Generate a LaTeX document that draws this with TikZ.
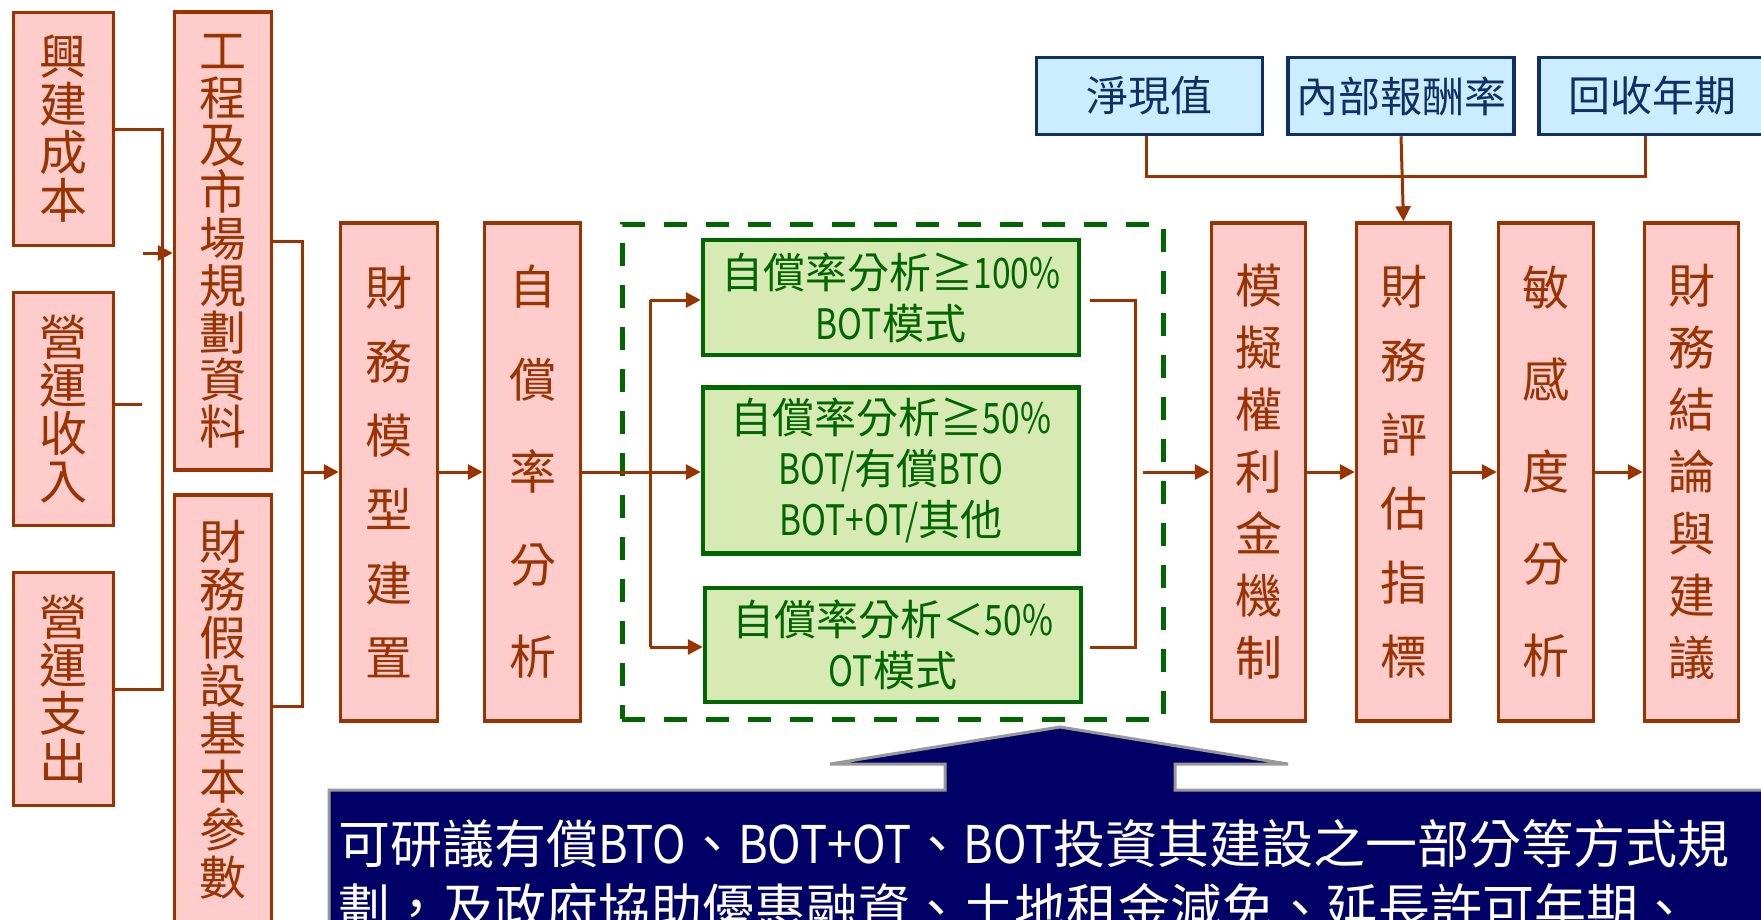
\documentclass[tikz,border=0pt]{standalone}
\usepackage{fontspec}
\setmainfont{Noto Sans CJK TC}
\newfontfamily\lat[FakeStretch=0.8]{Noto Sans CJK TC}
\newfontfamily\latc[FakeStretch=0.87]{Noto Sans CJK TC}
\usetikzlibrary{arrows.meta}
\definecolor{brn}{HTML}{993300}
\definecolor{pk}{HTML}{FFCCCC}
\definecolor{gfill}{HTML}{D8EAB4}
\definecolor{gdark}{HTML}{006600}
\definecolor{bfill}{HTML}{CCECFF}
\definecolor{bdark}{HTML}{0F2F66}
\definecolor{navy}{HTML}{000066}
\definecolor{cgray}{HTML}{999999}
\newcommand\fs[2]{\fontsize{#1}{#2}\selectfont}
\begin{document}
\begin{tikzpicture}[x=1pt,y=-1pt,
 pbox/.style={draw=brn,fill=pk,line width=3.4pt,text=brn,inner sep=0pt,align=center},
 gbox/.style={draw=gdark,fill=gfill,line width=4.5pt,text=gdark,inner sep=0pt,align=center,font=\fs{42}{51},minimum width=376pt},
 bbox/.style={draw=bdark,fill=bfill,line width=3.5pt,text=bdark,inner sep=0pt,font=\fs{42}{50},minimum width=226pt,minimum height=77pt},
 grp/.style={draw=gdark,line width=5pt,dash pattern=on 23pt off 19pt,inner sep=0pt},
 conn/.style={draw=brn,line width=3pt},
 arr/.style={conn,-{Triangle[length=15pt,width=15pt]}},
 cltext/.style={anchor=base west,text=white,inner sep=0pt,font=\fs{52}{64}},
]
\useasboundingbox (0,0) rectangle (1761,919);
\clip (0,0) rectangle (1761,919);
\fill[white] (0,0) rectangle (1761,919);

% left column
\node[pbox,minimum width=100pt,minimum height=233pt,font=\fs{48}{48}] (A) at (63.5,129) {興\\建\\成\\本};
\node[pbox,minimum width=100pt,minimum height=233pt,font=\fs{48}{48}] (B) at (63.5,409) {營\\運\\收\\入};
\node[pbox,minimum width=100pt,minimum height=233pt,font=\fs{48}{48}] (C) at (63.5,689) {營\\運\\支\\出};
\node[pbox,minimum width=97pt,minimum height=458pt,font=\fs{47}{47}] (D) at (223,241) {工\\程\\及\\市\\場\\規\\劃\\資\\料};
\node[pbox,minimum width=97pt,minimum height=430pt,font=\fs{47}{48}] (E) at (223,710) {財\\務\\假\\設\\基\\本\\參\\數};
\node[pbox,minimum width=97pt,minimum height=498pt,font=\fs{47}{74}] (F) at (389,472) {財\\務\\模\\型\\建\\置};
\node[pbox,minimum width=96pt,minimum height=498pt,font=\fs{47}{92.5}] (G) at (532.5,472) {自\\償\\率\\分\\析};

% group
\node[grp,minimum width=541pt,minimum height=495pt] (grp) at (892.5,471.5) {};
\node[gbox,minimum height=115pt] (g1) at (891,297.5) {自償率分析≧{\lat 100\%}\\{\lat BOT}模式};
\node[gbox,minimum height=166pt] (g2) at (891,470.5) {自償率分析≧{\lat 50\%}\\{\lat BOT/}有償{\lat BTO}\\{\lat BOT+OT/}其他};
\node[gbox,minimum height=114pt] (g3) at (893,645) {自償率分析＜{\lat 50\%}\\{\lat OT}模式};

% right column
\node[pbox,minimum width=94pt,minimum height=498pt,font=\fs{47}{62}] (H) at (1258.5,472) {模\\擬\\權\\利\\金\\機\\制};
\node[pbox,minimum width=94pt,minimum height=498pt,font=\fs{47}{74}] (I) at (1403.5,472) {財\\務\\評\\估\\指\\標};
\node[pbox,minimum width=95pt,minimum height=498pt,font=\fs{47}{92}] (J) at (1546,472) {敏\\感\\度\\分\\析};
\node[pbox,minimum width=94pt,minimum height=498pt,font=\fs{47}{62}] (K) at (1691.5,472) {財\\務\\結\\論\\與\\建\\議};

% indicators
\node[bbox] (L) at (1149.5,96) {淨現值};
\node[bbox] (M) at (1401,96) {內部報酬率};
\node[bbox] (N) at (1652,96) {回收年期};

% connectors left
\coordinate (j1) at (162,0);
\draw[conn] (A.east) -- (A.east -| j1) -- (C.east -| j1) -- (C.east);
\coordinate (b1) at (142,404);
\draw[conn] (b1 -| B.east) -- (b1);
\coordinate (a1) at (143,253);
\draw[arr] (a1) -- (a1 -| D.west);
\coordinate (j2) at (302,706);
\draw[conn] (D.east) -| (j2) -- (j2 -| E.east);
\draw[arr] (j2 |- F.west) -- (F.west);
\draw[arr] (F.east) -- (G.west);
\draw[arr] (G.east) -- (G.east -| g2.west);
\coordinate (s1) at (650,300);
\coordinate (s3) at (650,647);
\draw[conn] (s1) -- (s3);
\draw[arr] (s1) -- (s1 -| g1.west);
\draw[arr] (s3) -- (s3 -| g3.west);
\coordinate (r1) at (1090,300);
\coordinate (r2) at (1135,300);
\coordinate (r3) at (1135,647);
\coordinate (r4) at (1090,647);
\draw[conn] (r1) -- (r2) -- (r3) -- (r4);
\coordinate (h0) at (1143,472);
\draw[arr] (h0) -- (H.west);
\draw[arr] (H.east) -- (I.west);
\draw[arr] (I.east) -- (J.west);
\draw[arr] (J.east) -- (K.west);

% top connectors
\coordinate (t1) at (1146,176);
\coordinate (t2) at (1645,176);
\draw[conn] (t1 |- L.south) -- (t1) -- (t2) -- (t2 |- N.south);
\draw[arr] (M.south) -- (I.north);

% callout
\draw[fill=navy,draw=cgray,line width=3pt] (329,790) -- (945,790) -- (945,764) -- (830,764) -- (1060,727) -- (1288,764) -- (1175,764) -- (1175,790) -- (1790,790) -- (1790,960) -- (329,960) -- cycle;
\node[cltext] (cl1) at (338,863) {可研議有償{\latc BTO}、{\latc BOT+OT}、{\latc BOT}投資其建設之一部分等方式規};
\node[cltext] (cl2) at (338,927) {劃，及政府協助優惠融資、土地租金減免、延長許可年期、};
\end{tikzpicture}
\end{document}
